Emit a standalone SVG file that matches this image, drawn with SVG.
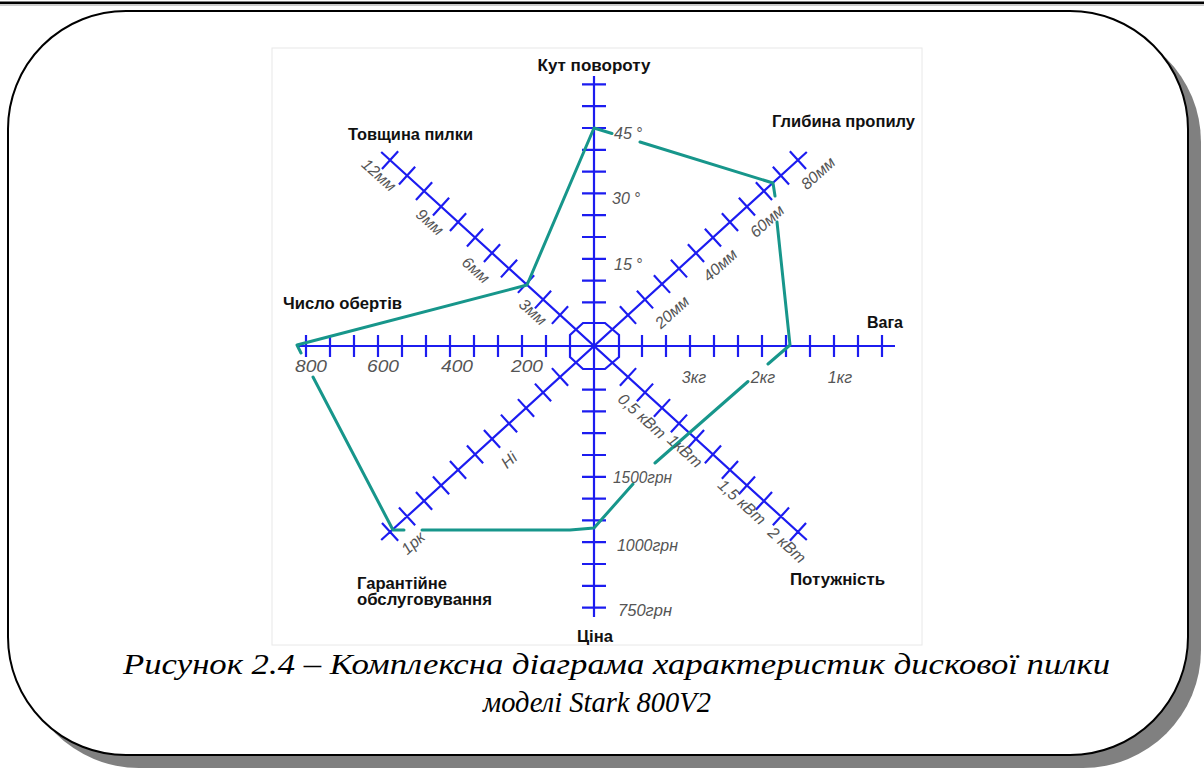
<svg xmlns="http://www.w3.org/2000/svg" width="1204" height="769" viewBox="0 0 1204 769">
<style>
.axis{fill:none;stroke:#1c1cf0;stroke-width:2.2;stroke-linecap:butt}
.poly{fill:none;stroke:#17968b;stroke-width:3;stroke-linecap:round;stroke-linejoin:round}
.ttl{font-family:"Liberation Sans",Arial,sans-serif;font-weight:bold;font-size:16px;fill:#111}
.tk{font-family:"Liberation Sans",Arial,sans-serif;font-style:italic;font-size:16px;fill:#555}
.cap{font-family:"Liberation Serif","Times New Roman",serif;font-style:italic;font-size:29px;fill:#000}
</style>
<rect width="1204" height="769" fill="#fff"/>
<line x1="0" y1="2.8" x2="1204" y2="2.8" stroke="#000" stroke-width="2.5"/>
<line x1="0" y1="5" x2="1204" y2="5" stroke="#999" stroke-width="1"/>
<g id="frame">
<rect x="21" y="24" width="1180" height="744" rx="118" ry="118" fill="#808080"/>
<rect x="8" y="11" width="1180" height="744" rx="118" ry="118" fill="#fff" stroke="#000" stroke-width="2"/>
<rect x="272" y="48" width="650" height="597" fill="none" stroke="#e8e8e8" stroke-width="1"/>
</g>
<g id="axes">
<path class="axis" d="M297 346H895 M642 335V357 M666 335V357 M690 335V357 M714 335V357 M738 335V357 M762 335V357 M786 335V357 M810 335V357 M834 335V357 M858 335V357 M882 335V357 M546 335V357 M522 335V357 M498 335V357 M474 335V357 M450 335V357 M426 335V357 M402 335V357 M378 335V357 M354 335V357 M330 335V357 M306 335V357"/>
<path class="axis" d="M594 76V617 M582 302.4H606 M582 280.6H606 M582 258.8H606 M582 237H606 M582 215.2H606 M582 193.4H606 M582 171.6H606 M582 149.8H606 M582 128H606 M582 106.2H606 M582 84.4H606 M582 389.6H606 M582 411.4H606 M582 433.2H606 M582 455H606 M582 476.8H606 M582 498.6H606 M582 520.4H606 M582 542.2H606 M582 564H606 M582 585.8H606 M582 607.6H606"/>
<path class="axis" transform="translate(594 346) rotate(42.36)" d="M-288 0H288 M46 -12V12 M69 -12V12 M92 -12V12 M115 -12V12 M138 -12V12 M161 -12V12 M184 -12V12 M207 -12V12 M230 -12V12 M253 -12V12 M276 -12V12 M-46 -12V12 M-69 -12V12 M-92 -12V12 M-115 -12V12 M-138 -12V12 M-161 -12V12 M-184 -12V12 M-207 -12V12 M-230 -12V12 M-253 -12V12 M-276 -12V12"/>
<path class="axis" transform="translate(594 346) rotate(-42.36)" d="M-288 0H288 M46 -12V12 M69 -12V12 M92 -12V12 M115 -12V12 M138 -12V12 M161 -12V12 M184 -12V12 M207 -12V12 M230 -12V12 M253 -12V12 M276 -12V12 M-46 -12V12 M-69 -12V12 M-92 -12V12 M-115 -12V12 M-138 -12V12 M-161 -12V12 M-184 -12V12 M-207 -12V12 M-230 -12V12 M-253 -12V12 M-276 -12V12"/>
<polygon class="axis" points="583,323 605,323 619,335 619,357 605,369 583,369 570,357 570,335"/>
</g>
<g id="connectors">
<path class="poly" d="M594 128L612 133.5 M640 142L773 183L775 196 M777 222L790 345L768 364 M748 381.5L655 463 M633 484L594 528L570 530L422 530 M404 530L393 530L313 377 M301 353L297 345L527 285L594 128"/>
</g>
<g id="node-kut">
<text class="ttl" x="594" y="71" text-anchor="middle" textLength="113" lengthAdjust="spacingAndGlyphs">Кут повороту</text>
<text class="tk" x="614" y="139">45<tspan dx="4">°</tspan></text>
<text class="tk" x="612" y="204">30<tspan dx="4">°</tspan></text>
<text class="tk" x="614" y="270">15<tspan dx="4">°</tspan></text>
</g>
<g id="node-hlybyna">
<text class="ttl" x="772" y="127" textLength="143" lengthAdjust="spacingAndGlyphs">Глибина пропилу</text>
<text class="tk" text-anchor="middle" dominant-baseline="central" transform="translate(672 312) rotate(-42)">20мм</text>
<text class="tk" text-anchor="middle" dominant-baseline="central" transform="translate(720 265) rotate(-42)">40мм</text>
<text class="tk" text-anchor="middle" dominant-baseline="central" transform="translate(767 221) rotate(-42)">60мм</text>
<text class="tk" text-anchor="middle" dominant-baseline="central" transform="translate(818 173) rotate(-42)">80мм</text>
</g>
<g id="node-vaha">
<text class="ttl" x="867" y="328" textLength="36" lengthAdjust="spacingAndGlyphs">Вага</text>
<text class="tk" x="694" y="383" text-anchor="middle">3кг</text>
<text class="tk" x="763" y="383" text-anchor="middle">2кг</text>
<text class="tk" x="840" y="383" text-anchor="middle">1кг</text>
</g>
<g id="node-potuzhnist">
<text class="ttl" x="790" y="585" textLength="95" lengthAdjust="spacingAndGlyphs">Потужність</text>
<text class="tk" text-anchor="middle" dominant-baseline="central" transform="translate(642 416) rotate(42)">0,5 кВт</text>
<text class="tk" text-anchor="middle" dominant-baseline="central" transform="translate(685 451) rotate(42)">1кВт</text>
<text class="tk" text-anchor="middle" dominant-baseline="central" transform="translate(742 502) rotate(42)">1,5 кВт</text>
<text class="tk" text-anchor="middle" dominant-baseline="central" transform="translate(787 545) rotate(42)">2 кВт</text>
</g>
<g id="node-tsina">
<text class="ttl" x="595" y="642" text-anchor="middle" textLength="36" lengthAdjust="spacingAndGlyphs">Ціна</text>
<text class="tk" x="613" y="483" textLength="59" lengthAdjust="spacingAndGlyphs">1500грн</text>
<text class="tk" x="617" y="551" textLength="61" lengthAdjust="spacingAndGlyphs">1000грн</text>
<text class="tk" x="618" y="616" textLength="54" lengthAdjust="spacingAndGlyphs">750грн</text>
</g>
<g id="node-harantiia">
<text class="ttl" x="357" y="589" textLength="90" lengthAdjust="spacingAndGlyphs">Гарантійне</text>
<text class="ttl" x="357" y="605" textLength="135" lengthAdjust="spacingAndGlyphs">обслуговування</text>
<text class="tk" text-anchor="middle" dominant-baseline="central" transform="translate(509 460) rotate(-42)">Ні</text>
<text class="tk" text-anchor="middle" dominant-baseline="central" transform="translate(413 543) rotate(-42)">1рк</text>
</g>
<g id="node-chyslo">
<text class="ttl" x="283" y="309" textLength="119" lengthAdjust="spacingAndGlyphs">Число обертів</text>
<text class="tk" x="311" y="372" text-anchor="middle" textLength="32" lengthAdjust="spacingAndGlyphs">800</text>
<text class="tk" x="383" y="372" text-anchor="middle" textLength="32" lengthAdjust="spacingAndGlyphs">600</text>
<text class="tk" x="457" y="372" text-anchor="middle" textLength="32" lengthAdjust="spacingAndGlyphs">400</text>
<text class="tk" x="527" y="372" text-anchor="middle" textLength="32" lengthAdjust="spacingAndGlyphs">200</text>
</g>
<g id="node-tovshchyna">
<text class="ttl" x="348" y="140" textLength="125" lengthAdjust="spacingAndGlyphs">Товщина пилки</text>
<text class="tk" text-anchor="middle" dominant-baseline="central" transform="translate(379 175) rotate(42)">12мм</text>
<text class="tk" text-anchor="middle" dominant-baseline="central" transform="translate(430 222) rotate(42)">9мм</text>
<text class="tk" text-anchor="middle" dominant-baseline="central" transform="translate(476 270) rotate(42)">6мм</text>
<text class="tk" text-anchor="middle" dominant-baseline="central" transform="translate(533 312) rotate(42)">3мм</text>
</g>
<g id="caption">
<text class="cap" x="123" y="674" textLength="987" lengthAdjust="spacingAndGlyphs">Рисунок 2.4 – Комплексна діаграма характеристик дискової пилки</text>
<text class="cap" x="483" y="712" textLength="228" lengthAdjust="spacingAndGlyphs">моделі Stark 800V2</text>
</g>
</svg>
